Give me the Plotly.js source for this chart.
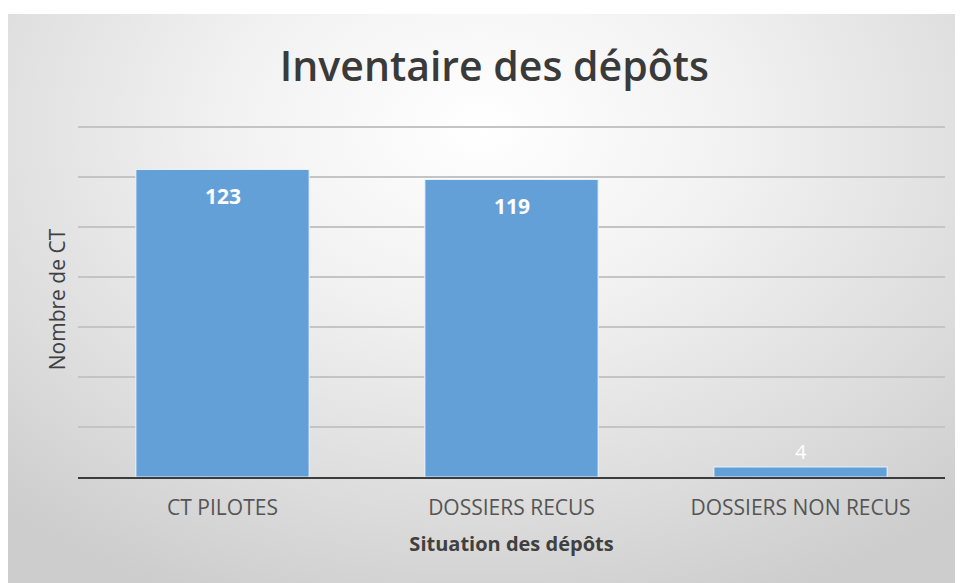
<!DOCTYPE html>
<html>
<head>
<meta charset="utf-8">
<script src="https://cdn.plot.ly/plotly-3.0.1.min.js"></script>
<style>
html,body{margin:0;padding:0;background:#ffffff;width:960px;height:583px;overflow:hidden;}
#frame{position:absolute;left:8px;top:14px;width:947px;height:569px;
background:radial-gradient(ellipse 75% 90% at 50% 20%, #ffffff 0%, #f2f2f2 35%, #dcdcdc 75%, #cdcdcd 100%);}
#chart{position:absolute;left:0;top:0;width:960px;height:583px;}
</style>
</head>
<body>
<div id="frame"></div>
<div id="chart"></div>
<script>
const categories = ["CT PILOTES", "DOSSIERS RECUS", "DOSSIERS NON RECUS"];
const values = [123, 119, 4];
const valueLabels = ["123", "119", "4"];

const trace = {
  type: "bar",
  x: categories,
  y: values,
  marker: {color: "#64a0d8", line: {color: "rgba(235,245,255,0.9)", width: 1.2}},
  width: 0.6,
  hoverinfo: "none"
};

const labelFont = {family: "Open Sans, sans-serif", size: 21, color: "#ffffff", weight: 700};
const annotations = categories.map((c, i) => ({
  x: c, y: values[i], xref: "x", yref: "y",
  text: valueLabels[i],
  showarrow: false,
  yshift: values[i] > 20 ? -26 : 16,
  font: values[i] > 20 ? labelFont : Object.assign({}, labelFont, {weight: 400, size: 20})
}));

const layout = {
  width: 960, height: 583,
  paper_bgcolor: "rgba(0,0,0,0)",
  plot_bgcolor: "rgba(0,0,0,0)",
  margin: {l: 78, r: 15, t: 122, b: 106},
  showlegend: false,
  annotations: annotations,
  title: {
    text: "Inventaire des dépôts",
    x: 0.515, xanchor: "center",
    y: 0.885, yanchor: "middle",
    font: {family: "Open Sans, sans-serif", size: 41, color: "#3a3a3a", weight: 600}
  },
  xaxis: {
    type: "category",
    showgrid: false,
    showline: true, linecolor: "#3c3c3c", linewidth: 2,
    ticks: "",
    tickfont: {family: "Open Sans, sans-serif", size: 21, color: "#555555"},
    ticklabelstandoff: 11,
    title: {text: "Situation des dépôts", standoff: 17,
      font: {family: "Open Sans, sans-serif", size: 20, color: "#404040", weight: 700}}
  },
  yaxis: {
    range: [0, 142],
    dtick: 20,
    showgrid: true, gridcolor: "#c4c4c4", gridwidth: 2,
    zeroline: false,
    showticklabels: false,
    ticks: "",
    title: {text: "Nombre de CT", standoff: 5,
      font: {family: "Open Sans, sans-serif", size: 21, color: "#404040"}}
  },
  bargap: 0.4
};

Plotly.newPlot("chart", [trace], layout, {staticPlot: true, displayModeBar: false});
</script>
</body>
</html>
